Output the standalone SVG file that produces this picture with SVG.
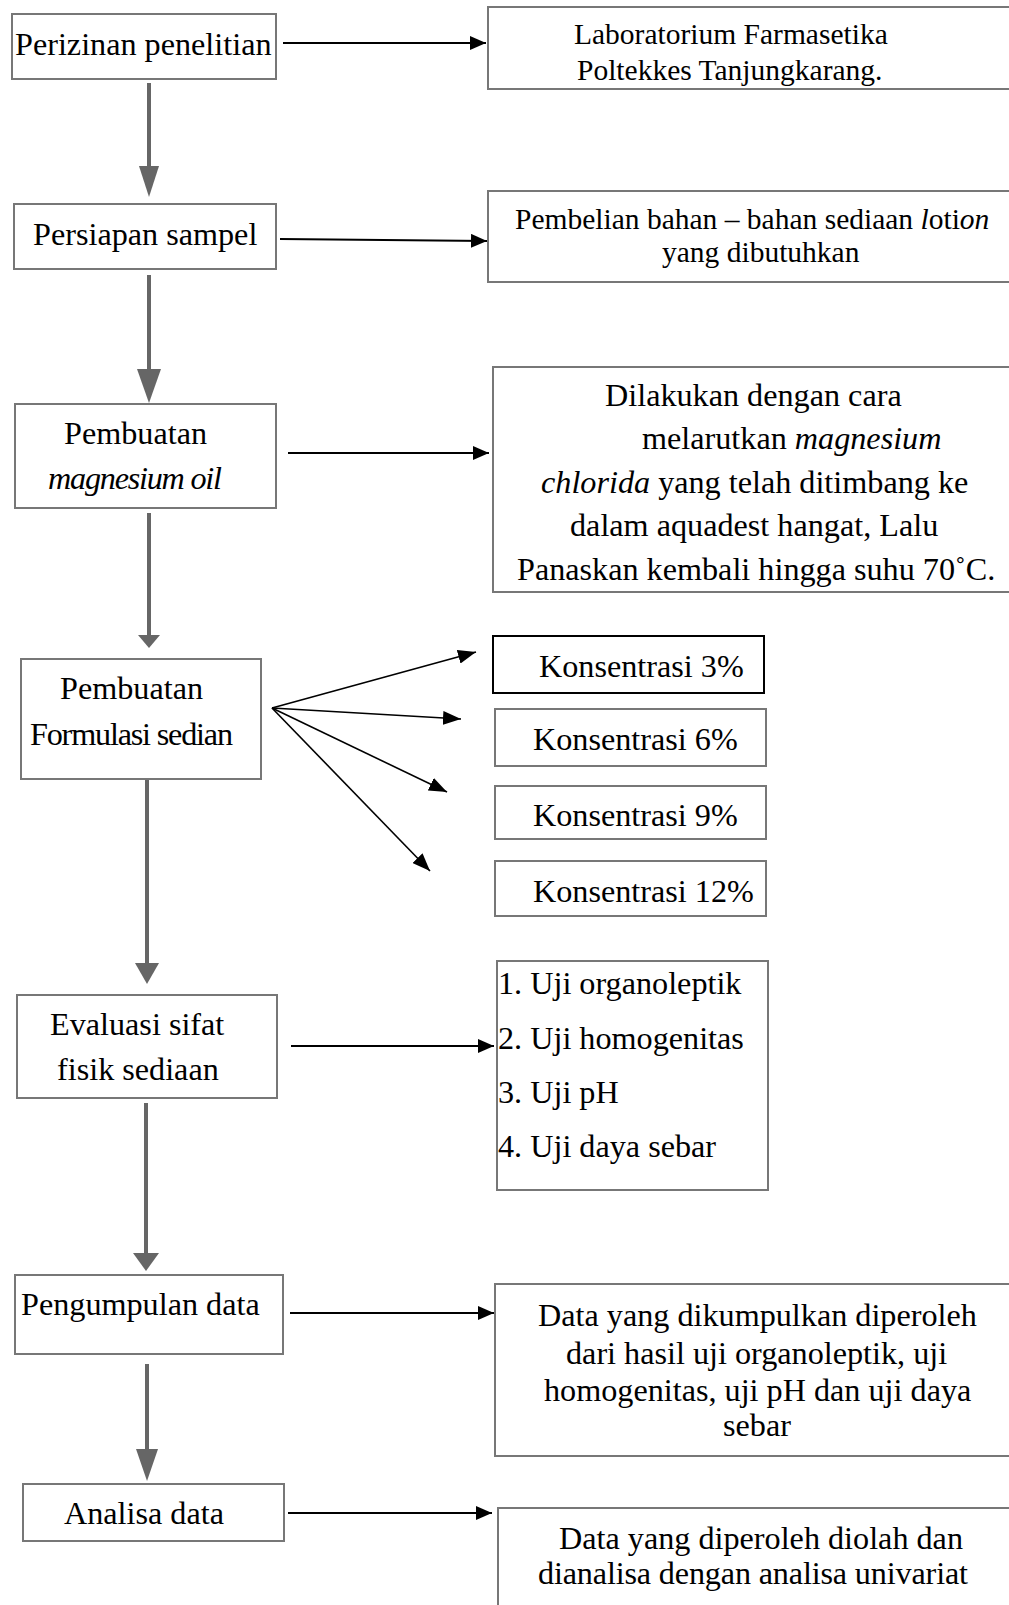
<svg xmlns="http://www.w3.org/2000/svg" width="1009" height="1605" viewBox="0 0 1009 1605">
<style>
  .box { fill: #ffffff; stroke: #777777; stroke-width: 2; }
  .boxk { fill: #ffffff; stroke: #000000; stroke-width: 2; }
  text { font-family: "Liberation Serif", "Times New Roman", serif; fill: #000000; font-size: 32.2px; }
  .sm { font-size: 29.5px; }
  .it { font-style: italic; }
  .garr { stroke: #666666; stroke-width: 4; fill: none; }
  .ghead { fill: #666666; stroke: none; }
  .barr { stroke: #000000; stroke-width: 2.2; fill: none; marker-end: url(#ah); }
  .farr { stroke: #000000; stroke-width: 1.6; fill: none; marker-end: url(#ah2); }
</style>
<defs>
  <marker id="ah" markerUnits="userSpaceOnUse" markerWidth="16" markerHeight="14" refX="16" refY="7" orient="auto">
    <path d="M0,0 L16,7 L0,14 z" fill="#000000"/>
  </marker>
  <marker id="ah2" markerUnits="userSpaceOnUse" markerWidth="18" markerHeight="14" refX="18" refY="7" orient="auto">
    <path d="M0,0 L18,7 L0,14 z" fill="#000000"/>
  </marker>
</defs>
<rect x="0" y="0" width="1009" height="1605" fill="#ffffff"/>

<g id="connectors">
  <line class="garr" x1="149" y1="83" x2="149" y2="168"/>
  <polygon class="ghead" points="139,166 159,166 149,197"/>
  <line class="garr" x1="149" y1="275" x2="149" y2="371"/>
  <polygon class="ghead" points="137,369 161,369 149,403"/>
  <line class="garr" x1="149" y1="513" x2="149" y2="637"/>
  <polygon class="ghead" points="138,635 160,635 149,648"/>
  <line class="garr" x1="147" y1="777" x2="147" y2="965"/>
  <polygon class="ghead" points="135,963 159,963 147,984"/>
  <line class="garr" x1="146" y1="1103" x2="146" y2="1255"/>
  <polygon class="ghead" points="133,1253 159,1253 146,1271"/>
  <line class="garr" x1="147" y1="1364" x2="147" y2="1451"/>
  <polygon class="ghead" points="136,1449 158,1449 147,1481"/>

  <line class="barr" x1="283" y1="43" x2="486" y2="43"/>
  <line class="barr" x1="280" y1="239" x2="487" y2="241"/>
  <line class="barr" x1="288" y1="453" x2="489" y2="453"/>
  <line class="barr" x1="291" y1="1046" x2="494" y2="1046"/>
  <line class="barr" x1="290" y1="1313" x2="494" y2="1313"/>
  <line class="barr" x1="288" y1="1513" x2="492" y2="1513"/>

  <line class="farr" x1="272" y1="708" x2="476" y2="652"/>
  <line class="farr" x1="272" y1="708" x2="461" y2="719"/>
  <line class="farr" x1="272" y1="708" x2="447" y2="792"/>
  <line class="farr" x1="272" y1="708" x2="430" y2="871"/>
</g>

<g id="n-perizinan">
  <rect class="box" x="12" y="14" width="264" height="65"/>
  <text x="15" y="55">Perizinan penelitian</text>
</g>
<g id="n-lab">
  <rect class="box" x="488" y="7" width="530" height="82"/>
  <text class="sm" x="574" y="44">Laboratorium Farmasetika</text>
  <text class="sm" x="577" y="80">Poltekkes Tanjungkarang.</text>
</g>
<g id="n-persiapan">
  <rect class="box" x="14" y="204" width="262" height="65"/>
  <text x="33" y="245">Persiapan sampel</text>
</g>
<g id="n-pembelian">
  <rect class="box" x="488" y="191" width="530" height="91"/>
  <text class="sm" x="515" y="229">Pembelian bahan – bahan sediaan <tspan class="it">l</tspan>oti<tspan class="it">on</tspan></text>
  <text class="sm" x="662" y="262">yang dibutuhkan</text>
</g>
<g id="n-mgoil">
  <rect class="box" x="15" y="404" width="261" height="104"/>
  <text x="64" y="444">Pembuatan</text>
  <text class="it" x="48" y="489" textLength="174">magnesium oil</text>
</g>
<g id="n-dilakukan">
  <rect class="box" x="493" y="367" width="525" height="225"/>
  <text x="605" y="406">Dilakukan dengan cara</text>
  <text x="642" y="449">melarutkan <tspan class="it">magnesium</tspan></text>
  <text x="541" y="493"><tspan class="it">chlorida</tspan> yang telah ditimbang ke</text>
  <text x="570" y="536">dalam aquadest hangat, Lalu</text>
  <text x="517" y="580">Panaskan kembali hingga suhu 70˚C.</text>
</g>
<g id="n-formulasi">
  <rect class="box" x="21" y="659" width="240" height="120"/>
  <text x="60" y="699">Pembuatan</text>
  <text x="30" y="745" textLength="203">Formulasi sedian</text>
</g>
<g id="n-k3">
  <rect class="boxk" x="493" y="636" width="271" height="57"/>
  <text x="539" y="677">Konsentrasi 3%</text>
</g>
<g id="n-k6">
  <rect class="box" x="495" y="709" width="271" height="57"/>
  <text x="533" y="750">Konsentrasi 6%</text>
</g>
<g id="n-k9">
  <rect class="box" x="495" y="786" width="271" height="53"/>
  <text x="533" y="826">Konsentrasi 9%</text>
</g>
<g id="n-k12">
  <rect class="box" x="495" y="861" width="271" height="55"/>
  <text x="533" y="902">Konsentrasi 12%</text>
</g>
<g id="n-evaluasi">
  <rect class="box" x="17" y="995" width="260" height="103"/>
  <text x="50" y="1035">Evaluasi sifat</text>
  <text x="57" y="1080">fisik sediaan</text>
</g>
<g id="n-uji">
  <rect class="box" x="497" y="961" width="271" height="229"/>
  <text x="498" y="994">1. Uji organoleptik</text>
  <text x="498" y="1049">2. Uji homogenitas</text>
  <text x="498" y="1103">3. Uji pH</text>
  <text x="498" y="1157">4. Uji daya sebar</text>
</g>
<g id="n-pengumpulan">
  <rect class="box" x="15" y="1275" width="268" height="79"/>
  <text x="21" y="1315">Pengumpulan data</text>
</g>
<g id="n-datakumpul">
  <rect class="box" x="495" y="1284" width="525" height="172"/>
  <text x="538" y="1326">Data yang dikumpulkan diperoleh</text>
  <text x="566" y="1364">dari hasil uji organoleptik, uji</text>
  <text x="544" y="1401">homogenitas, uji pH dan uji daya</text>
  <text x="723" y="1436">sebar</text>
</g>
<g id="n-analisa">
  <rect class="box" x="23" y="1484" width="261" height="57"/>
  <text x="64" y="1524">Analisa data</text>
</g>
<g id="n-dataolah">
  <rect class="box" x="498" y="1508" width="525" height="110"/>
  <text x="559" y="1549">Data yang diperoleh diolah dan</text>
  <text x="538" y="1584" textLength="430">dianalisa dengan analisa univariat</text>
</g>
</svg>
